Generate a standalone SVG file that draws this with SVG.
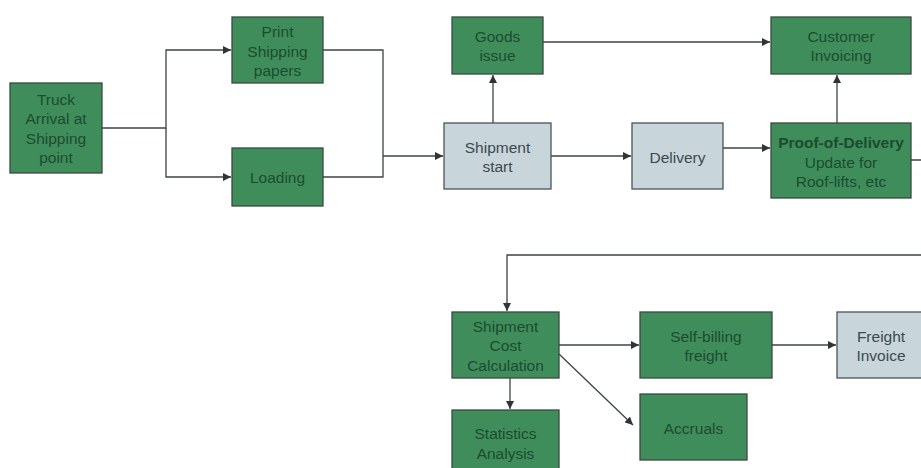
<svg xmlns="http://www.w3.org/2000/svg" width="921" height="468" viewBox="0 0 921 468">
<style>
.g{fill:#3f8d5b;stroke:#3a4a40;stroke-width:1.3}
.b{fill:#c8d5da;stroke:#4a5558;stroke-width:1.3}
.tg{font-family:"Liberation Sans",Arial,sans-serif;font-size:15.5px;fill:#1c4c2f;text-anchor:middle}
.tb{font-family:"Liberation Sans",Arial,sans-serif;font-size:15.5px;fill:#3c494e;text-anchor:middle}
.c{fill:none;stroke:#3d4345;stroke-width:1.3}
</style>
<defs>
<marker id="a" viewBox="0 0 10 10" refX="10" refY="5" markerWidth="8" markerHeight="8" markerUnits="userSpaceOnUse" orient="auto">
<path d="M0,0L10,5L0,10z" fill="#2f3536"/>
</marker>
</defs>
<rect width="921" height="468" fill="#ffffff"/>
<g id="connectors">
<path class="c" d="M102,128H166V50H231" marker-end="url(#a)"/>
<path class="c" d="M166,128V177H231" marker-end="url(#a)"/>
<path class="c" d="M323,50H383V177H323"/>
<path class="c" d="M383,156H443" marker-end="url(#a)"/>
<path class="c" d="M493,123V75" marker-end="url(#a)"/>
<path class="c" d="M543,42H770" marker-end="url(#a)"/>
<path class="c" d="M551,156H631" marker-end="url(#a)"/>
<path class="c" d="M723,148H770" marker-end="url(#a)"/>
<path class="c" d="M837,123V75" marker-end="url(#a)"/>
<path class="c" d="M911,160H925V255H507V311" marker-end="url(#a)"/>
<path class="c" d="M559,345H639" marker-end="url(#a)"/>
<path class="c" d="M772,345H836" marker-end="url(#a)"/>
<path class="c" d="M559,354L633,425" marker-end="url(#a)"/>
<path class="c" d="M510,378V409" marker-end="url(#a)"/>
</g>
<g id="truck"><rect class="g" x="10" y="83" width="92" height="90"/>
<text class="tg" x="56" y="104.5">Truck</text><text class="tg" x="56" y="123.5">Arrival at</text><text class="tg" x="56" y="143.5">Shipping</text><text class="tg" x="56" y="162.5">point</text></g>
<g id="print"><rect class="g" x="232" y="17" width="91" height="66"/>
<text class="tg" x="277.5" y="36.5">Print</text><text class="tg" x="277.5" y="56.5">Shipping</text><text class="tg" x="277.5" y="75.5">papers</text></g>
<g id="loading"><rect class="g" x="232" y="148" width="91" height="58"/>
<text class="tg" x="277.5" y="182.5">Loading</text></g>
<g id="goods"><rect class="g" x="452" y="17" width="91" height="57"/>
<text class="tg" x="497.5" y="41.5">Goods</text><text class="tg" x="497.5" y="60.5">issue</text></g>
<g id="shipstart"><rect class="b" x="444" y="123" width="107" height="66"/>
<text class="tb" x="497.5" y="152.5">Shipment</text><text class="tb" x="497.5" y="171.5">start</text></g>
<g id="delivery"><rect class="b" x="632" y="123" width="91" height="66"/>
<text class="tb" x="677.5" y="162.5">Delivery</text></g>
<g id="custinv"><rect class="g" x="771" y="17" width="140" height="57"/>
<text class="tg" x="841" y="41.5">Customer</text><text class="tg" x="841" y="60.5">Invoicing</text></g>
<g id="pod"><rect class="g" x="771" y="123" width="140" height="75"/>
<text class="tg" x="841" y="147.5" font-weight="bold">Proof-of-Delivery</text><text class="tg" x="841" y="167.5">Update for</text><text class="tg" x="841" y="186.5">Roof-lifts, etc</text></g>
<g id="scc"><rect class="g" x="452" y="312" width="107" height="66"/>
<text class="tg" x="505.5" y="331.5">Shipment</text><text class="tg" x="505.5" y="350.5">Cost</text><text class="tg" x="505.5" y="370.5">Calculation</text></g>
<g id="selfbill"><rect class="g" x="640" y="312" width="132" height="66"/>
<text class="tg" x="706" y="341.5">Self-billing</text><text class="tg" x="706" y="360.5">freight</text></g>
<g id="freight"><rect class="b" x="837" y="312" width="90" height="66"/>
<text class="tb" x="881" y="341.5">Freight</text><text class="tb" x="881" y="360.5">Invoice</text></g>
<g id="accruals"><rect class="g" x="640" y="394" width="107" height="66"/>
<text class="tg" x="693.5" y="433.5">Accruals</text></g>
<g id="stats"><rect class="g" x="452" y="410" width="107" height="64"/>
<text class="tg" x="505.5" y="438.5">Statistics</text><text class="tg" x="505.5" y="458.5">Analysis</text></g>
</svg>
